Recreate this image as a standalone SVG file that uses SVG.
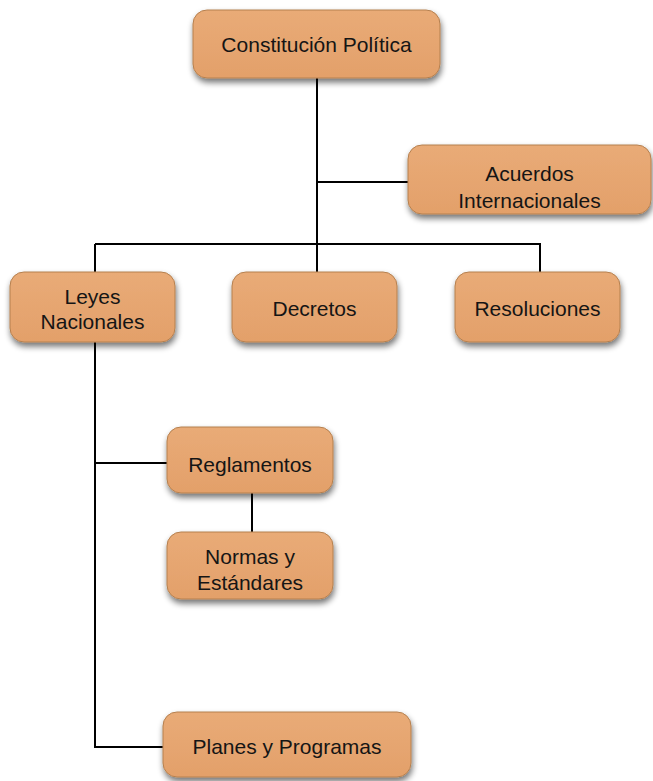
<svg xmlns="http://www.w3.org/2000/svg" width="653" height="781" viewBox="0 0 653 781">
<defs>
<linearGradient id="g" x1="0" y1="0" x2="0" y2="1">
<stop offset="0" stop-color="#E9AB77"/>
<stop offset="1" stop-color="#E3A06A"/>
</linearGradient>
<filter id="sh" x="-20%" y="-20%" width="140%" height="160%">
<feGaussianBlur in="SourceAlpha" stdDeviation="3"/>
<feOffset dx="1" dy="4" result="b"/>
<feComponentTransfer><feFuncA type="linear" slope="0.55"/></feComponentTransfer>
<feMerge><feMergeNode/><feMergeNode in="SourceGraphic"/></feMerge>
</filter>
</defs>
<style>
.box{fill:url(#g);stroke:#B5804F;stroke-width:1;filter:url(#sh)}
.t{font-family:"Liberation Sans",Arial,sans-serif;font-size:21px;fill:#151515;text-anchor:middle}
.c{fill:none;stroke:#000;stroke-width:2}
</style>
<rect width="653" height="781" fill="#fff"/>
<g id="connectors">
<path class="c" d="M317 78 V272"/>
<path class="c" d="M317 182 H408"/>
<path class="c" d="M95 244 H540 V272"/>
<path class="c" d="M95 244 V272"/>
<path class="c" d="M95 342 V747 H163"/>
<path class="c" d="M95 463 H167"/>
<path class="c" d="M252 493 V532"/>
</g>
<g id="constitucion">
<rect class="box" x="193" y="10" width="247" height="68" rx="14"/>
<text class="t" x="316.5" y="52">Constitución Política</text>
</g>
<g id="acuerdos">
<rect class="box" x="408" y="145" width="243" height="69" rx="14"/>
<text class="t" x="529.5" y="181">Acuerdos</text>
<text class="t" x="529.5" y="208">Internacionales</text>
</g>
<g id="leyes">
<rect class="box" x="10" y="272" width="165" height="70" rx="14"/>
<text class="t" x="92.5" y="304">Leyes</text>
<text class="t" x="92.5" y="329">Nacionales</text>
</g>
<g id="decretos">
<rect class="box" x="232" y="272" width="165" height="70" rx="14"/>
<text class="t" x="314.5" y="316">Decretos</text>
</g>
<g id="resoluciones">
<rect class="box" x="455" y="272" width="165" height="70" rx="14"/>
<text class="t" x="537.5" y="316">Resoluciones</text>
</g>
<g id="reglamentos">
<rect class="box" x="167" y="427" width="166" height="66" rx="14"/>
<text class="t" x="250" y="472">Reglamentos</text>
</g>
<g id="normas">
<rect class="box" x="167" y="532" width="166" height="67" rx="14"/>
<text class="t" x="250" y="564">Normas y</text>
<text class="t" x="250" y="590">Estándares</text>
</g>
<g id="planes">
<rect class="box" x="163" y="712" width="248" height="65" rx="14"/>
<text class="t" x="287" y="754">Planes y Programas</text>
</g>
</svg>
